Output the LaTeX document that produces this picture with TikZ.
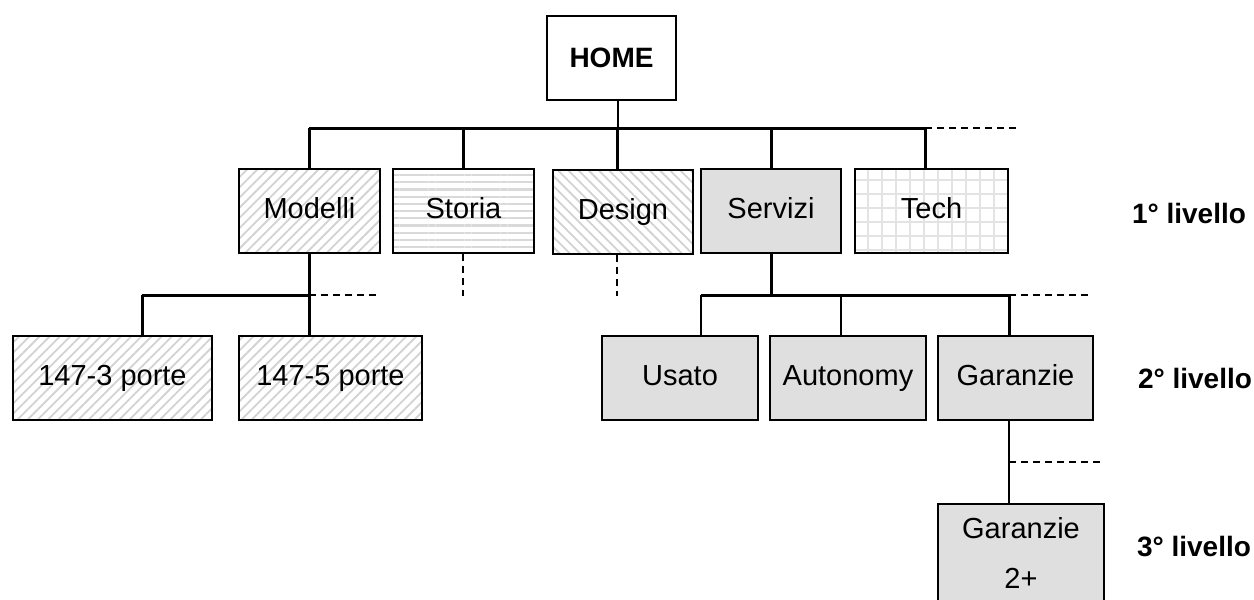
\documentclass[tikz,border=0pt]{standalone}
\usepackage{fontspec}
\setmainfont{Liberation Sans}
\usetikzlibrary{patterns.meta}
\begin{document}
\begin{tikzpicture}[x=0.5pt, y=-0.5pt,
    box/.style={draw, line width=0.9pt, inner sep=0pt, minimum height=42pt,
        text height=10.5pt, text depth=3pt, font=\fontsize{14.5}{16}\selectfont},
    hatchne/.style={box, pattern={Lines[angle=45,distance=3.6pt,line width=0.9pt]}, pattern color=gray!35},
    hatchnw/.style={box, pattern={Lines[angle=-45,distance=3.6pt,line width=0.9pt]}, pattern color=gray!35},
    hatchh/.style={box, pattern={Lines[angle=0,distance=3.6pt,line width=1.1pt]}, pattern color=gray!30},
    gridbox/.style={box, pattern={Hatch[angle=0,distance=7pt,line width=0.8pt]}, pattern color=gray!22},
    greybox/.style={box, fill=gray!25},
    livello/.style={font=\fontsize{14}{16}\selectfont\bfseries},
    bus/.style={line width=1.5pt},
    thin/.style={line width=1pt},
    dots/.style={line width=1.2pt, dash pattern=on 3.5pt off 2.5pt}]
    \useasboundingbox (0,0) rectangle (1254,600);

    % root
    \node[draw, line width=1.4pt, minimum width=64.5pt, minimum height=42pt,
        font=\fontsize{14}{16}\selectfont\bfseries] (home) at (611.5,58) {HOME};

    % 1st level
    \node[hatchne, minimum width=70.5pt] (modelli) at (309.5,211) {Modelli};
    \node[hatchh, minimum width=70.5pt] (storia) at (463.5,211) {Storia};
    \node[hatchnw, minimum width=70pt] (design) at (623,212) {Design};
    \node[greybox, minimum width=70pt] (servizi) at (771,211) {Servizi};
    \node[gridbox, minimum width=76.5pt] (tech) at (931.5,211) {Tech};

    % 2nd level
    \node[hatchne, minimum width=99.5pt] (porte3) at (112.5,378) {147-3 porte};
    \node[hatchne, minimum width=91.5pt] (porte5) at (330.5,378) {147-5 porte};
    \node[greybox, minimum width=78pt] (usato) at (680,378) {Usato};
    \node[greybox, minimum width=78pt] (autonomy) at (848,378) {Autonomy};
    \node[greybox, minimum width=77.5pt] (garanzie) at (1015.5,378) {Garanzie};

    % 3rd level
    \node[draw, line width=0.9pt, fill=gray!25, inner sep=0pt, minimum width=83pt, minimum height=49pt,
        align=center, font=\fontsize{14.5}{16}\selectfont] (garanzie2) at (1021,553)
        {Garanzie\\[9pt]2+};

    \node[livello] (liv1) at (1189,213) {1° livello};
    \node[livello] (liv2) at (1195,378) {2° livello};
    \node[livello] (liv3) at (1194,547) {3° livello};

    % main bus
    \coordinate (b0) at (618,128);
    \coordinate (btech) at (925,128);
    \coordinate (bend) at (1020,128);
    \draw[thin] (home.south -| b0) -- (b0);
    \draw[bus] (309,128) -- (btech);
    \draw[dots] (btech) -- (bend);
    \foreach \n/\x in {modelli/309, storia/463, design/617, servizi/771, tech/925}
        \draw[bus] (\x,128) -- (\x,0 |- \n.north);

    % under Modelli
    \coordinate (m1) at (142,295);
    \coordinate (m2) at (309,295);
    \coordinate (m3) at (378,295);
    \draw[bus] (m2 |- modelli.south) -- (m2 |- porte5.north);
    \draw[bus] (m1) -- (m2);
    \draw[dots] (m2) -- (m3);
    \draw[bus] (m1) -- (m1 |- porte3.north);

    % Storia, Design
    \draw[dots] (463,0 |- storia.south) -- (463,296);
    \draw[dots] (617,0 |- design.south) -- (617,296);

    % under Servizi
    \coordinate (s0) at (771,295);
    \coordinate (s1) at (701,295);
    \coordinate (s2) at (841,295);
    \coordinate (s3) at (1009,295);
    \coordinate (s4) at (1088,295);
    \draw[bus] (servizi.south) -- (s0);
    \draw[bus] (s1) -- (s3);
    \draw[dots] (s3) -- (s4);
    \draw[thin] (s1) -- (s1 |- usato.north);
    \draw[thin] (s2) -- (s2 |- autonomy.north);
    \draw[bus] (s3) -- (s3 |- garanzie.north);

    % under Garanzie
    \coordinate (g0) at (1009,462);
    \coordinate (g1) at (1102,462);
    \draw[thin] (g0 |- garanzie.south) -- (g0 |- garanzie2.north);
    \draw[dots, line width=1pt] (g0) -- (g1);
\end{tikzpicture}
\end{document}
